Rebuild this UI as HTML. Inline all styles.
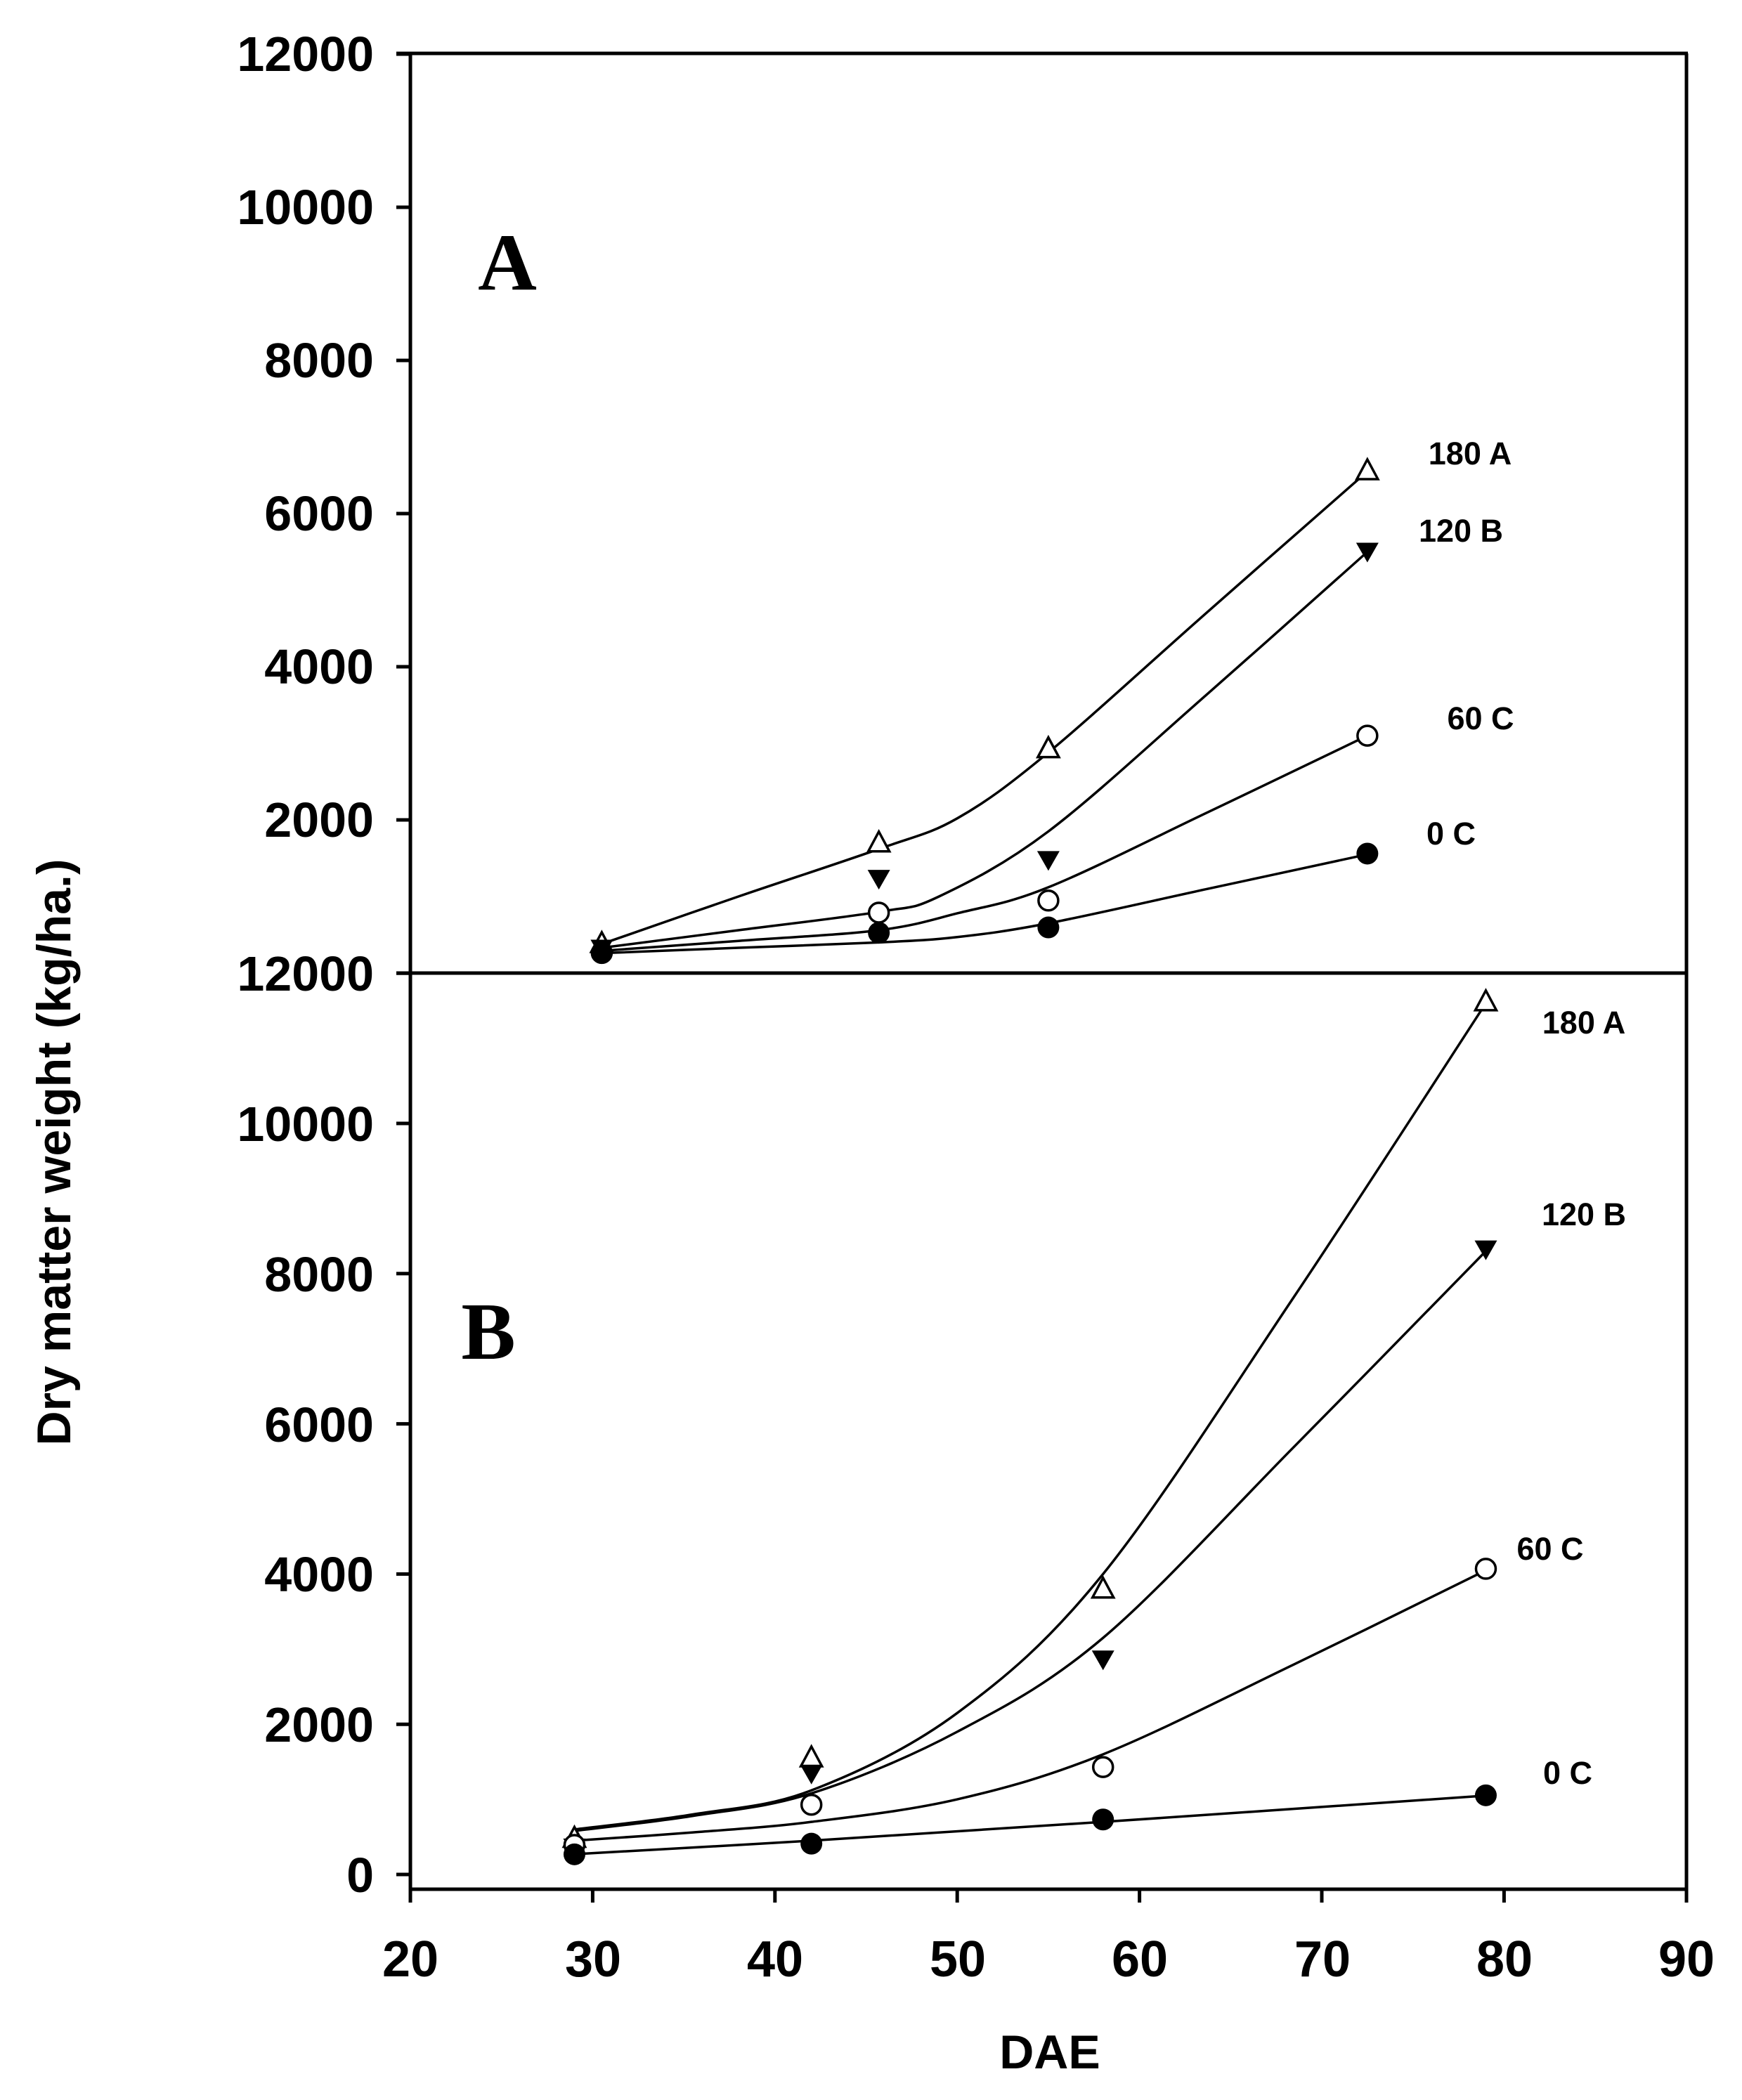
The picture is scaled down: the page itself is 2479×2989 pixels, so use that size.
<!DOCTYPE html>
<html><head><meta charset="utf-8"><style>
html,body{margin:0;padding:0;background:#fff;}
svg{display:block;}
text{font-family:"Liberation Sans",Arial,sans-serif;font-weight:bold;fill:#000;}
</style></head><body>
<svg id="s" width="2479" height="2989" viewBox="0 0 2479 2989" xmlns="http://www.w3.org/2000/svg">
<g stroke="#000" stroke-width="5" fill="none">
<line x1="564" y1="76" x2="2402" y2="76"/>
<line x1="584" y1="76" x2="584" y2="2708"/>
<line x1="2400" y1="76" x2="2400" y2="2708"/>
<line x1="564" y1="1385" x2="2402" y2="1385"/>
<line x1="584" y1="2689" x2="2402" y2="2689"/>
</g>
<g id="ticks" stroke="#000" stroke-width="5"></g>
<g font-size="70" text-anchor="end">
<text x="532" y="101">12000</text>
<text x="532" y="319">10000</text>
<text x="532" y="537">8000</text>
<text x="532" y="755">6000</text>
<text x="532" y="973">4000</text>
<text x="532" y="1191">2000</text>
<text x="532" y="1410">12000</text>
<text x="532" y="1624">10000</text>
<text x="532" y="1838">8000</text>
<text x="532" y="2052">6000</text>
<text x="532" y="2265">4000</text>
<text x="532" y="2479">2000</text>
<text x="532" y="2693">0</text>
</g>
<g font-size="72" text-anchor="middle">
<text x="584" y="2813">20</text>
<text x="844" y="2813">30</text>
<text x="1103" y="2813">40</text>
<text x="1363" y="2813">50</text>
<text x="1622" y="2813">60</text>
<text x="1882" y="2813">70</text>
<text x="2141" y="2813">80</text>
<text x="2400" y="2813">90</text>
</g>
<text x="1494" y="2944" font-size="68" text-anchor="middle">DAE</text>
<text transform="translate(100,1640) rotate(-90)" font-size="68" text-anchor="middle">Dry matter weight (kg/ha.)</text>
<text x="722" y="412" font-size="116" text-anchor="middle" style="font-family:'Liberation Serif',serif">A</text>
<text x="695" y="1934" font-size="116" text-anchor="middle" style="font-family:'Liberation Serif',serif">B</text>
<g font-size="45" text-anchor="middle">
<text x="2092" y="661">180 A</text>
<text x="2079" y="771">120 B</text>
<text x="2107" y="1038">60 C</text>
<text x="2065" y="1202">0 C</text>
<text x="2254" y="1471">180 A</text>
<text x="2254" y="1744">120 B</text>
<text x="2206" y="2220">60 C</text>
<text x="2231" y="2539">0 C</text>
</g>
<g id="curves" stroke="#000" stroke-width="3.5" fill="none"></g>
<g id="marks"></g>
</svg>
<script>
var NS="http://www.w3.org/2000/svg";
function X(d){return 584+(d-20)*25.94;}
function YT(v){return 1385-v*0.109;}
function YB(v){return 2668-v*0.1069;}
var tk=document.getElementById('ticks'),cv=document.getElementById('curves'),mk=document.getElementById('marks');
function el(p,t,a){var e=document.createElementNS(NS,t);for(var k in a)e.setAttribute(k,a[k]);p.appendChild(e);return e;}
for(var i=1;i<=6;i++){var y=YT(i*2000);el(tk,'line',{x1:564,y1:y,x2:584,y2:y});}
for(var i=0;i<=6;i++){var y=YB(i*2000);el(tk,'line',{x1:564,y1:y,x2:584,y2:y});}
for(var d=30;d<=80;d+=10){el(tk,'line',{x1:X(d),y1:2689,x2:X(d),y2:2708});}
function curve(pts,Y){
 var P=pts.map(function(p){return [X(p[0]),Y(p[1])];});
 var s="M"+P[0][0]+","+P[0][1];
 for(var i=0;i<P.length-1;i++){
  var p0=P[i-1]||P[i],p1=P[i],p2=P[i+1],p3=P[i+2]||P[i+1];
  var c1=[p1[0]+(p2[0]-p0[0])/6,p1[1]+(p2[1]-p0[1])/6];
  var c2=[p2[0]-(p3[0]-p1[0])/6,p2[1]-(p3[1]-p1[1])/6];
  s+=" C"+c1+" "+c2+" "+p2;
 }
 el(cv,'path',{d:s});
}
function mark(type,d,v,Y){
 var x=X(d),y=Y(v),r=14;
 if(type=='oc')el(mk,'circle',{cx:x,cy:y,r:r,fill:'#fff',stroke:'#000','stroke-width':3.5});
 if(type=='fc')el(mk,'circle',{cx:x,cy:y,r:r+1.5,fill:'#000'});
 if(type=='ot')el(mk,'polygon',{points:[x,y-16,x-15,y+12,x+15,y+12].join(' '),fill:'#fff',stroke:'#000','stroke-width':3.5});
 if(type=='dt')el(mk,'polygon',{points:[x-16,y-13,x+16,y-13,x,y+15].join(' '),fill:'#000'});
}
// top panel
curve([[30.5,380],[38,1000],[45.7,1620],[50,2020],[55,2880],[63.75,4720],[72.5,6550]],YT);
curve([[30.5,330],[38,560],[45.7,800],[49,1000],[55,1850],[63.75,3650],[72.5,5500]],YT);
curve([[30.5,290],[38,420],[45.7,560],[50,780],[55,1120],[63.75,2100],[72.5,3100]],YT);
curve([[30.5,260],[38,330],[45.7,400],[50,470],[55,650],[63.75,1100],[72.5,1550]],YT);
[[30.5,386],[45.7,1700],[55,2930],[72.5,6560]].forEach(function(p){mark('ot',p[0],p[1],YT);});
[[30.5,316],[45.7,1228],[55,1474],[72.5,5500]].forEach(function(p){mark('dt',p[0],p[1],YT);});
[[30.5,263],[45.7,789],[55,947],[72.5,3100]].forEach(function(p){mark('oc',p[0],p[1],YT);});
[[30.5,263],[45.7,526],[55,596],[72.5,1560]].forEach(function(p){mark('fc',p[0],p[1],YT);});
// bottom panel
curve([[29,600],[35.5,800],[42,1120],[50,2150],[58,4000],[68.5,7700],[79,11600]],YB);
curve([[29,580],[35.5,780],[42,1080],[50,1900],[58,3150],[68.5,5700],[79,8300]],YB);
curve([[29,450],[35.5,560],[42,700],[50,1000],[58,1600],[68.5,2800],[79,4050]],YB);
curve([[29,270],[42,450],[58,700],[79,1050]],YB);
[[29,482],[42,1553],[58,3800],[79,11620]].forEach(function(p){mark('ot',p[0],p[1],YB);});
[[29,357],[42,1340],[58,2860],[79,8320]].forEach(function(p){mark('dt',p[0],p[1],YB);});
[[29,393],[42,929],[58,1430],[79,4070]].forEach(function(p){mark('oc',p[0],p[1],YB);});
[[29,268],[42,410],[58,732],[79,1054]].forEach(function(p){mark('fc',p[0],p[1],YB);});
</script>
</body></html>
